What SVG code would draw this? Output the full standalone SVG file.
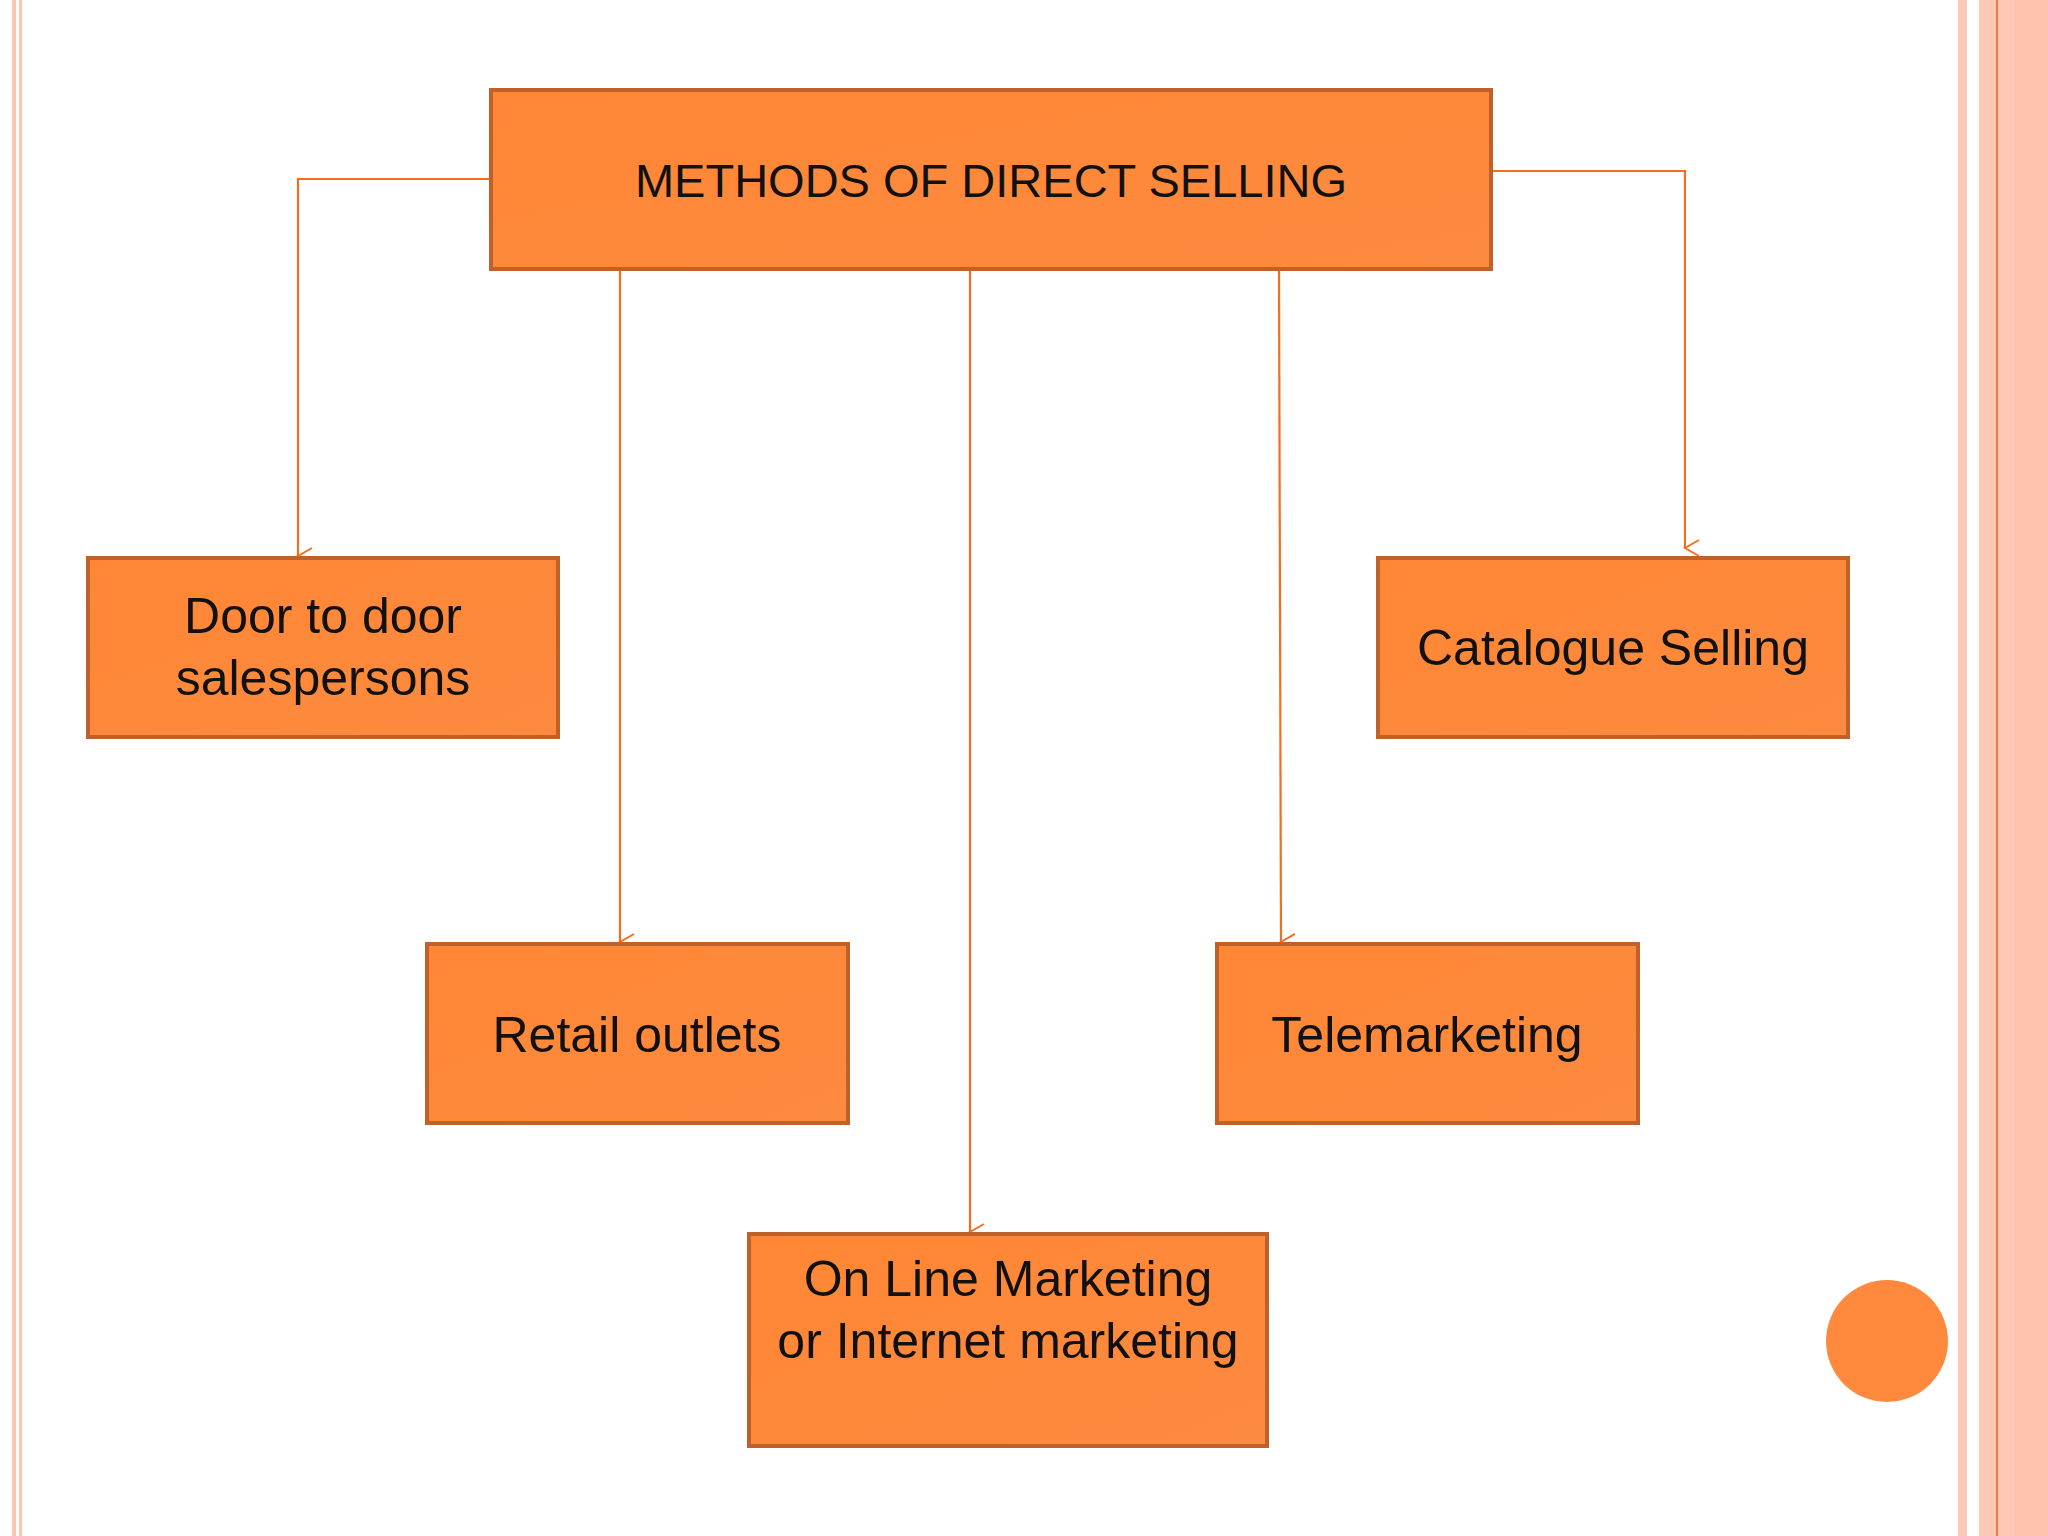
<svg xmlns="http://www.w3.org/2000/svg" width="2048" height="1536" viewBox="0 0 2048 1536">
<defs>
<linearGradient id="g" x1="0" y1="0" x2="1" y2="1"><stop offset="0" stop-color="#FF8734"/><stop offset="1" stop-color="#FC8A40"/></linearGradient>
<marker id="a" markerWidth="20" markerHeight="20" refX="10" refY="18" orient="auto" markerUnits="userSpaceOnUse" viewBox="0 0 20 20"><path d="M2,4 L10,18 L18,4" fill="none" stroke="#F07020" stroke-width="2"/></marker>
</defs>
<style>
.b{fill:url(#g);stroke:#BF612A;stroke-width:4}
.t{font-family:"Liberation Sans",Arial,sans-serif;font-size:50px;fill:#111;text-anchor:middle}
.c{fill:none;stroke:#F07020;stroke-width:2.2}
</style>
<rect width="2048" height="1536" fill="#FFFFFF"/>
<g id="frame">
<rect x="12" y="0" width="4" height="1536" fill="#FBC6B2"/>
<rect x="19" y="0" width="3" height="1536" fill="#FBC6B2"/>
<rect x="1958" y="0" width="9" height="1536" fill="#FDC8B5"/>
<rect x="1979" y="0" width="69" height="1536" fill="#FDC8B5"/>
<rect x="2015" y="0" width="33" height="1536" fill="#FFC3AE"/>
<rect x="1996" y="0" width="2" height="1536" fill="#F07A40"/>
</g>
<g id="connectors">
<path class="c" d="M491,179 H298 V556" marker-end="url(#a)"/>
<path class="c" d="M1491,171 H1685 V548" marker-end="url(#a)"/>
<path class="c" d="M620,269 V942" marker-end="url(#a)"/>
<path class="c" d="M970,252 V1232" marker-end="url(#a)"/>
<path class="c" d="M1279,269 L1281,942" marker-end="url(#a)"/>
</g>
<g id="root"><rect class="b" x="491" y="90" width="1000" height="179"/><text class="t" x="991" y="197" style="font-size:47px">METHODS OF DIRECT SELLING</text></g>
<g id="door"><rect class="b" x="88" y="558" width="470" height="179"/><text class="t" x="323" y="633">Door to door</text><text class="t" x="323" y="695">salespersons</text></g>
<g id="catalogue"><rect class="b" x="1378" y="558" width="470" height="179"/><text class="t" x="1613" y="665">Catalogue Selling</text></g>
<g id="retail"><rect class="b" x="427" y="944" width="421" height="179"/><text class="t" x="637" y="1052">Retail outlets</text></g>
<g id="tele"><rect class="b" x="1217" y="944" width="421" height="179"/><text class="t" x="1427" y="1052">Telemarketing</text></g>
<g id="online"><rect class="b" x="749" y="1234" width="518" height="212"/><text class="t" x="1008" y="1296">On Line Marketing</text><text class="t" x="1008" y="1358">or Internet marketing</text></g>
<circle cx="1887" cy="1341" r="61" fill="#FF8A3D"/>
</svg>
